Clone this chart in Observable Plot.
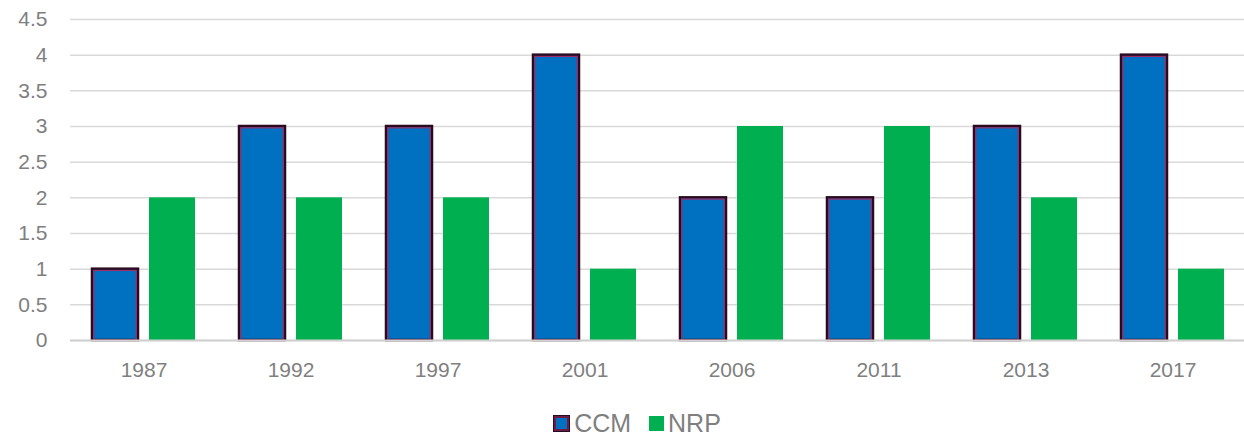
<!DOCTYPE html>
<html>
<head>
<meta charset="utf-8">
<script src="https://cdn.jsdelivr.net/npm/d3@7"></script>
<script src="https://cdn.jsdelivr.net/npm/@observablehq/plot@0.6"></script>
<style>
  html, body { margin: 0; padding: 0; background: #fff; overflow: hidden; }
  #chart { width: 1244px; height: 392px; }
  #chart svg { display: block; }
  .legend { display: flex; justify-content: center; align-items: center; font-family: "Liberation Sans", Arial, sans-serif; font-size: 25px; color: #7f7f7f; height: 30px; margin-top: 16px; padding-left: 30px; }
  .legend .item { display: flex; align-items: center; margin: 0 9px; }
  .legend .sw { width: 15px; height: 15px; margin-right: 4px; box-sizing: border-box; }
</style>
</head>
<body>
<div id="chart"></div>
<script>
const years = ["1987", "1992", "1997", "2001", "2006", "2011", "2013", "2017"];
const ccm = [1, 3, 3, 4, 2, 2, 3, 4];
const nrp = [2, 2, 2, 1, 3, 3, 2, 1];
const seriesNames = ["CCM", "NRP"];
const seriesColors = ["#0070C0", "#00B050"];
const yTicks = [0, 0.5, 1, 1.5, 2, 2.5, 3, 3.5, 4, 4.5];

const data = [];
years.forEach((yr, i) => {
  data.push({year: yr, series: "CCM", value: ccm[i]});
  data.push({year: yr, series: "NRP", value: nrp[i]});
});
const ccmData = data.filter(d => d.series === "CCM");
const nrpData = data.filter(d => d.series === "NRP");

const font = "Liberation Sans, Arial, sans-serif";
const textColor = "#7f7f7f";

const chart = Plot.plot({
  width: 1244,
  height: 392,
  marginLeft: 67,
  marginRight: -4,
  marginTop: 19,
  marginBottom: 52,
  style: {fontFamily: font, fontSize: "21px", color: textColor, background: "#fff"},
  fx: {domain: years, padding: 0, label: null},
  x: {domain: seriesNames, paddingInner: 0.19, paddingOuter: 0.37, axis: null},
  y: {domain: [0, 4.5], axis: null},
  color: {domain: seriesNames, range: seriesColors},
  marks: [
    Plot.gridY(yTicks, {stroke: "#d9d9d9", strokeOpacity: 1, strokeWidth: 1.5}),
    Plot.barY(nrpData, {fx: "year", x: "series", y: "value", fill: "series"}),
    Plot.barY(ccmData, {fx: "year", x: "series", y: "value", fill: "series", stroke: "#2a0a1e", strokeWidth: 2.5}),
    Plot.barY(ccmData, {fx: "year", x: "series", y: "value", fill: "none", stroke: "#9b2d6b", strokeWidth: 1.2, insetLeft: 1.8, insetRight: 1.8, insetTop: 1.8}),
    Plot.ruleY([0], {stroke: "#d0d0d0", strokeWidth: 2}),
    Plot.axisY(yTicks, {anchor: "left", tickSize: 0, tickPadding: 23, fontSize: 21, fill: textColor, label: null, tickFormat: d => String(d)}),
    Plot.axisFx({anchor: "bottom", tickSize: 0, tickPadding: 22, fontSize: 21, fill: textColor, label: null})
  ]
});
document.getElementById("chart").appendChild(chart);

const legend = document.createElement("div");
legend.className = "legend";
seriesNames.forEach((name, i) => {
  const item = document.createElement("div");
  item.className = "item";
  const sw = document.createElement("span");
  sw.className = "sw";
  sw.style.background = seriesColors[i];
  if (name === "CCM") {
    sw.style.width = "17px";
    sw.style.height = "17px";
    sw.style.border = "3px solid #6b1d48";
    sw.style.outline = "1px solid #2a0a1e";
    sw.style.outlineOffset = "-1px";
  }
  const label = document.createElement("span");
  label.textContent = name;
  item.appendChild(sw);
  item.appendChild(label);
  legend.appendChild(item);
});
document.body.appendChild(legend);
</script>
</body>
</html>
